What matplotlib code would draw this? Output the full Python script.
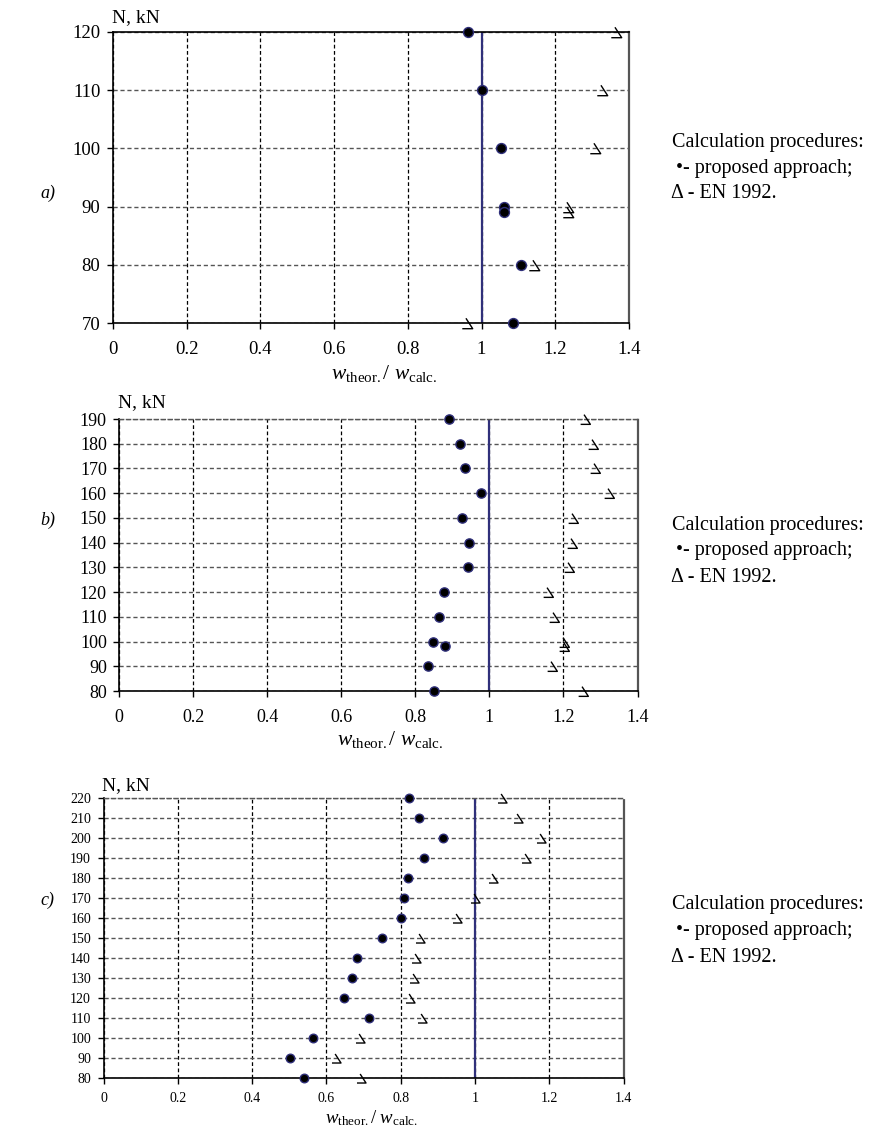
import matplotlib
matplotlib.use("Agg")
import matplotlib.pyplot as plt
import numpy as np
from matplotlib.path import Path
from matplotlib.ticker import FormatStrFormatter, MultipleLocator

plt.rcParams["font.family"] = ["Liberation Serif", "DejaVu Serif"]
plt.rcParams["mathtext.fontset"] = "custom"
plt.rcParams["mathtext.rm"] = "Liberation Serif"
plt.rcParams["mathtext.it"] = "Liberation Serif:italic"

# panel a) N = 70..120 kN
a_N_circ = [120, 110, 100, 90, 89, 80, 70]
a_circ = [0.962, 1.000, 1.052, 1.061, 1.061, 1.107, 1.084]
a_N_tri = [120, 110, 100, 90, 89, 80, 70]
a_tri = [1.366, 1.326, 1.308, 1.235, 1.235, 1.142, 0.960]

# panel b) N = 80..190 kN
b_N_circ = [190, 180, 170, 160, 150, 140, 130, 120, 110, 100, 98, 90, 80]
b_circ = [0.892, 0.921, 0.935, 0.976, 0.926, 0.945, 0.941, 0.876, 0.863,
          0.847, 0.880, 0.834, 0.851]
b_N_tri = [190, 180, 170, 160, 150, 140, 130, 120, 110, 100, 98, 90, 80]
b_tri = [1.257, 1.281, 1.286, 1.322, 1.227, 1.224, 1.214, 1.158, 1.175,
         1.202, 1.202, 1.169, 1.252]

# panel c) N = 80..220 kN
c_N = [220, 210, 200, 190, 180, 170, 160, 150, 140, 130, 120, 110, 100, 90, 80]
c_circ = [0.823, 0.849, 0.914, 0.864, 0.821, 0.810, 0.802, 0.750, 0.682,
          0.669, 0.647, 0.715, 0.563, 0.501, 0.540]
c_tri = [1.073, 1.116, 1.177, 1.138, 1.048, 1.001, 0.952, 0.851, 0.842,
         0.835, 0.824, 0.858, 0.690, 0.626, 0.694]

NAVY = "#30307a"
GRID = "#555555"

# open "half triangle" marker: diagonal + bottom stroke
tri_marker = Path([(-0.15, 0.5), (0.5, -0.5), (-0.5, -0.5)],
                  [Path.MOVETO, Path.LINETO, Path.LINETO])

fig = plt.figure(figsize=(8.81, 11.29), dpi=100)
W, H = 881.0, 1129.0


def make_axes(l, r, t, b):
    return fig.add_axes([l / W, 1 - b / H, (r - l) / W, (b - t) / H])


def PlotPanel(ax, N_circ, circ, N_tri, tri, ylim, fs, msize, top_solid,
              label, label_y, legend_y, xlabel_xy, xlabel_fs, nkn_y, xpad=9):
    ax.set_xlim(0, 1.4)
    ax.set_ylim(*ylim)
    ax.xaxis.set_major_locator(MultipleLocator(0.2))
    ax.yaxis.set_major_locator(MultipleLocator(10))
    ax.xaxis.set_major_formatter(FormatStrFormatter("%g"))
    ax.tick_params(axis="both", direction="out", length=4, width=1,
                   labelsize=fs, color="black")
    ax.tick_params(axis="x", pad=xpad)
    ax.tick_params(axis="y", pad=5)

    # dashed grid (horizontal a bit greyer than vertical)
    ax.grid(axis="y", color=GRID, linestyle=(0, (3, 2)), linewidth=1)
    ax.grid(axis="x", color="black", linestyle=(0, (3, 2)), linewidth=0.9)
    ax.set_axisbelow(True)

    # spines
    for s in ["left", "bottom"]:
        ax.spines[s].set_color("black")
        ax.spines[s].set_linewidth(1.2)
    ax.spines["right"].set_linestyle((0, (2, 1)))
    ax.spines["right"].set_color(GRID)
    ax.spines["right"].set_linewidth(1.6)
    if top_solid:
        ax.spines["top"].set_color("black")
        ax.spines["top"].set_linewidth(1.2)
    else:
        ax.spines["top"].set_linestyle((0, (3, 2)))
        ax.spines["top"].set_color(GRID)
        ax.spines["top"].set_linewidth(1)

    # reference line w_theor / w_calc = 1
    ax.axvline(1.0, color=NAVY, linewidth=1.6, zorder=2)

    ax.plot(tri, N_tri, linestyle="none", marker=tri_marker,
            markersize=msize, markerfacecolor="none", markeredgecolor="black",
            markeredgewidth=1.0, clip_on=False, zorder=3)
    ax.plot(circ, N_circ, linestyle="none", marker="o", markersize=msize * 0.95,
            markerfacecolor="black", markeredgecolor=NAVY,
            markeredgewidth=1.0, clip_on=False, zorder=4)

    # axis titles
    fig.text(ax.get_position().x0 - 1 / W, 1 - nkn_y / H, "N, kN",
             fontsize=14, ha="left", va="center")
    fig.text(xlabel_xy[0] / W, 1 - xlabel_xy[1] / H,
             r"$w_{\mathrm{theor.}}$/ $w_{\mathrm{calc.}}$",
             fontsize=xlabel_fs, ha="center", va="center")

    # panel label
    fig.text(40 / W, 1 - label_y / H, label, fontsize=13, style="italic",
             ha="left", va="center")

    # legend text
    fig.text(672 / W, 1 - legend_y / H, "Calculation procedures:",
             fontsize=14.5, ha="left", va="center")
    fig.text(676 / W, 1 - (legend_y + 26) / H, "\u2022- proposed approach;",
             fontsize=14.5, ha="left", va="center")
    fig.text(671 / W, 1 - (legend_y + 52) / H, "\u0394 - EN 1992.",
             fontsize=14.5, ha="left", va="center")


ax_a = make_axes(113, 629, 32, 323)
PlotPanel(ax_a, a_N_circ, a_circ, a_N_tri, a_tri, (70, 120), 13.5, 7.5,
          True, "a)", 193, 142, (384, 374), 15.5, 18)

ax_b = make_axes(119.3, 637.5, 419, 691)
PlotPanel(ax_b, b_N_circ, b_circ, b_N_tri, b_tri, (80, 190), 13, 7,
          False, "b)", 520, 525, (390, 740), 15.5, 403)

ax_c = make_axes(103.5, 623.5, 798, 1077.7)
PlotPanel(ax_c, c_N, c_circ, c_N, c_tri, (80, 220), 10, 6.5,
          False, "c)", 900, 905, (372, 1118), 13.5, 786, xpad=6)

fig.savefig("out.png", dpi=100)
